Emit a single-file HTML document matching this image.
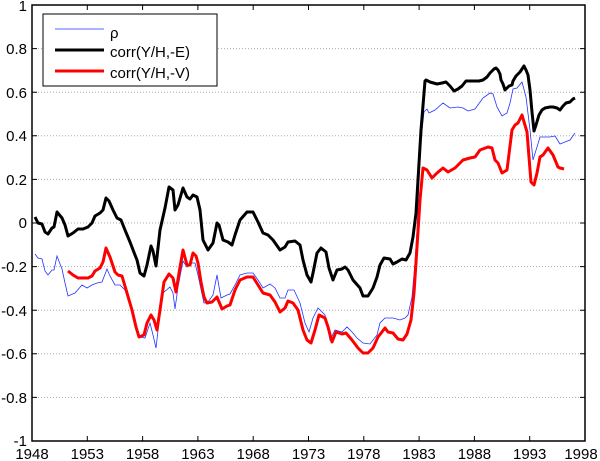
<!DOCTYPE html>
<html><head><style>body{margin:0;background:#fff}svg{display:block}text{font-family:"Liberation Sans",sans-serif;font-size:15px;fill:#000}</style></head><body>
<svg width="600" height="461" viewBox="0 0 600 461">
<g stroke="#aaa" stroke-width="1" stroke-dasharray="1,2">
<line x1="32" x2="585" y1="48.6" y2="48.6"/><line x1="32" x2="585" y1="92.2" y2="92.2"/><line x1="32" x2="585" y1="135.8" y2="135.8"/><line x1="32" x2="585" y1="179.4" y2="179.4"/><line x1="32" x2="585" y1="223" y2="223"/><line x1="32" x2="585" y1="266.6" y2="266.6"/><line x1="32" x2="585" y1="310.2" y2="310.2"/><line x1="32" x2="585" y1="353.8" y2="353.8"/><line x1="32" x2="585" y1="397.4" y2="397.4"/>
</g>
<g stroke="#000" stroke-width="1">
<line x1="87.3" x2="87.3" y1="441" y2="436"/><line x1="142.6" x2="142.6" y1="441" y2="436"/><line x1="197.9" x2="197.9" y1="441" y2="436"/><line x1="253.2" x2="253.2" y1="441" y2="436"/><line x1="308.5" x2="308.5" y1="441" y2="436"/><line x1="363.8" x2="363.8" y1="441" y2="436"/><line x1="419.1" x2="419.1" y1="441" y2="436"/><line x1="474.4" x2="474.4" y1="441" y2="436"/><line x1="529.7" x2="529.7" y1="441" y2="436"/>
<line x1="87.3" x2="87.3" y1="5" y2="10"/><line x1="142.6" x2="142.6" y1="5" y2="10"/><line x1="197.9" x2="197.9" y1="5" y2="10"/><line x1="253.2" x2="253.2" y1="5" y2="10"/><line x1="308.5" x2="308.5" y1="5" y2="10"/><line x1="363.8" x2="363.8" y1="5" y2="10"/><line x1="419.1" x2="419.1" y1="5" y2="10"/><line x1="474.4" x2="474.4" y1="5" y2="10"/><line x1="529.7" x2="529.7" y1="5" y2="10"/>
<path d="M32 48.6h5M32 92.2h5M32 135.8h5M32 179.4h5M32 223h5M32 266.6h5M32 310.2h5M32 353.8h5M32 397.4h5M585 48.6h-5M585 92.2h-5M585 135.8h-5M585 179.4h-5M585 223h-5M585 266.6h-5M585 310.2h-5M585 353.8h-5M585 397.4h-5"/>
</g>
<rect x="32" y="5" width="553" height="436" fill="none" stroke="#000" stroke-width="1.5"/>
<g text-anchor="end">
<text x="27" y="11">1</text><text x="27" y="54">0.8</text><text x="27" y="98">0.6</text><text x="27" y="141">0.4</text><text x="27" y="185">0.2</text><text x="27" y="228">0</text><text x="27" y="272">-0.2</text><text x="27" y="316">-0.4</text><text x="27" y="359">-0.6</text><text x="27" y="403">-0.8</text><text x="27" y="446">-1</text>
</g>
<g text-anchor="middle">
<text x="32" y="459">1948</text><text x="87.3" y="459">1953</text><text x="142.6" y="459">1958</text><text x="197.9" y="459">1963</text><text x="253.2" y="459">1968</text><text x="308.5" y="459">1973</text><text x="363.8" y="459">1978</text><text x="419.1" y="459">1983</text><text x="474.4" y="459">1988</text><text x="529.7" y="459">1993</text><text x="581" y="459">1998</text>
</g>
<polyline fill="none" stroke="#2233ff" stroke-width="0.8" points="35,254 38,258 42,259 45,271 48,275 52,270 54,270 57,256 62,269 65,283 68,296 75,293 82,285 87,288 92,285 97,283 102,282 107,269 110,276 115,285 120,285 125,290 130,305 135,323 140,337 145,338 150,323 153,335 156,348 160,313 163,293 170,287 173,293 175,309 178,287 183,261 187,267 192,263 195,263 198,275 202,294 204,303 208,302 213,295 217,275 221,298 227,295 230,294 235,285 240,275 247,273 253,273 258,280 263,288 270,284 275,288 280,298 285,298 288,290 294,290 300,303 305,323 309,332 313,318 318,308 325,315 330,340 335,330 342,332 347,327 352,332 357,338 363,343 370,344 377,335 380,323 385,318 393,318 400,320 405,318 408,315 412,297 415,263 417,230 419,180 421,140 424,112 427,109 429,113 435,110 443,103 450,108 458,107 463,108 468,111 475,109 483,98 490,93 493,94 497,107 502,116 507,113 510,103 513,89 517,88 522,82 526,97 530,130 533,160 537,147 540,137 550,137 555,136 560,144 565,142 570,140 575,133"/>
<polyline fill="none" stroke="#000" stroke-width="3" stroke-linejoin="round" points="35,217 38,223 42,224 45,232 48,234 52,228 54,227 57,212 62,218 65,225 68,236 73,233 78,229 83,229 88,227 92,223 95,216 100,213 103,210 106,198 109,201 113,210 117,218 121,220 125,230 130,242 135,255 137,260 140,273 144,276 147,265 151,246 153,251 156,266 160,230 165,208 169,187 173,190 175,210 178,205 183,188 187,197 190,199 193,195 197,197 200,210 203,240 208,250 213,243 217,223 219,225 223,240 228,242 232,245 235,235 240,220 247,212 253,212 258,222 263,233 268,235 273,240 280,250 285,247 288,242 295,241 300,245 303,260 307,275 311,282 313,273 317,253 321,248 326,252 329,268 333,280 337,270 342,269 345,267 348,270 353,280 360,288 363,296 368,296 373,288 377,277 380,265 384,258 390,259 393,264 397,262 402,259 406,260 410,253 413,237 416,213 418,180 421,130 425,81 426,80 430,82 437,84 442,83 446,82 450,86 454,91 458,89 462,86 466,81 476,81 479,81 483,80 487,77 490,73 494,69 496,68 498,70 500,74 501,80 503,84 505,90 507,88 509,86 512,85 513,81 516,76 520,72 524,66 526,70 528,75 530,90 532,112 534,131 536,125 539,115 542,110 545,108 550,107 553,107 557,108 560,110 563,106 566,103 570,102 573,99 575,98"/>
<polyline fill="none" stroke="#ff0000" stroke-width="3" stroke-linejoin="round" points="68,271 73,275 78,278 88,278 92,276 95,271 100,268 103,262 106,248 110,257 115,272 118,275 122,276 127,293 132,310 136,327 139,337 144,335 147,323 151,315 154,320 157,330 160,310 164,282 169,274 173,278 176,292 179,273 183,250 187,265 190,265 193,253 196,256 198,263 201,282 204,297 207,303 212,302 217,297 222,309 227,306 230,305 235,290 240,280 247,277 253,277 258,285 263,293 270,295 275,302 280,312 285,308 288,301 293,303 298,310 303,330 307,340 311,343 315,330 319,315 325,318 328,327 332,342 336,332 342,334 346,333 352,340 358,348 363,353 368,353 373,348 378,337 385,328 388,332 393,333 398,339 403,340 407,334 411,320 414,293 417,247 420,200 423,168 427,170 432,178 437,173 443,168 448,172 455,168 463,160 470,158 475,157 480,150 488,147 492,148 495,160 498,163 502,173 507,170 512,130 515,125 518,123 522,115 527,132 531,182 534,185 537,173 540,157 543,155 548,148 553,155 558,167 560,168 564,169"/>
<rect x="43" y="14" width="174" height="72" fill="#fff" stroke="#000" stroke-width="1"/>
<line x1="55" x2="104" y1="29" y2="29" stroke="#2233ff" stroke-width="0.8"/>
<line x1="55" x2="104" y1="50" y2="50" stroke="#000" stroke-width="3"/>
<line x1="55" x2="104" y1="71" y2="71" stroke="#ff0000" stroke-width="3"/>
<text x="110" y="38">ρ</text><text x="110" y="57">corr(Y/H,-E)</text><text x="110" y="78">corr(Y/H,-V)</text>
</svg>
</body></html>
